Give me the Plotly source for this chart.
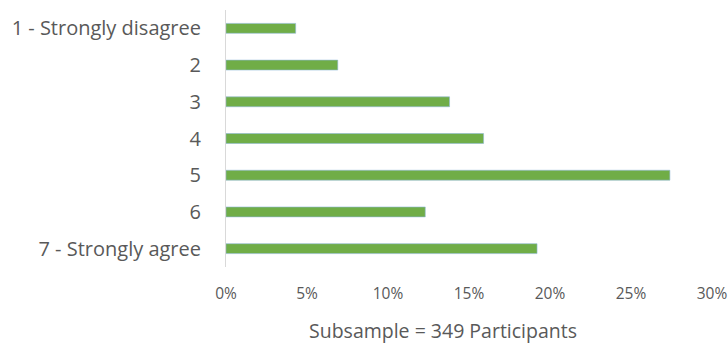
import plotly.graph_objects as go

categories = ["1 - Strongly disagree", "2", "3", "4", "5", "6", "7 - Strongly agree"]
values = [4.3, 6.9, 13.8, 15.9, 27.4, 12.3, 19.2]
tick_vals = [0, 5, 10, 15, 20, 25, 30]
tick_text = ["0%", "5%", "10%", "15%", "20%", "25%", "30%"]
axis_title = "Subsample = 349 Participants"

fig = go.Figure(go.Bar(
    x=values, y=categories, orientation="h",
    marker=dict(color="#70AD47", line=dict(color="#8FB9D6", width=0.6)),
    width=0.27,
))
fig.update_layout(
    width=728, height=345,
    margin=dict(l=226, r=16, t=10, b=78, autoexpand=False),
    plot_bgcolor="white", paper_bgcolor="white",
    font=dict(family="Open Sans", color="#595959"),
    showlegend=False,
    bargap=0.7,
)
fig.update_xaxes(
    range=[0, 30], tickvals=tick_vals, ticktext=tick_text,
    showgrid=False, zeroline=False, showline=False, automargin=False,
    tickfont=dict(size=15.5, color="#595959"),
    ticks="outside", ticklen=12, tickcolor="rgba(0,0,0,0)",
)
fig.update_yaxes(
    categoryorder="array", categoryarray=categories, autorange="reversed",
    showgrid=False, zeroline=False, automargin=False,
    showline=True, linecolor="#D9D9D9", linewidth=1,
    tickfont=dict(size=20, color="#595959"),
    ticks="outside", ticklen=20, tickcolor="rgba(0,0,0,0)",
)
fig.add_annotation(
    text=axis_title, xref="paper", yref="paper",
    x=(443 - 226) / 486, y=-(330 - 267) / 257,
    xanchor="center", yanchor="middle", showarrow=False,
    font=dict(size=19.5, color="#595959"),
)
fig.write_html("out.html")
